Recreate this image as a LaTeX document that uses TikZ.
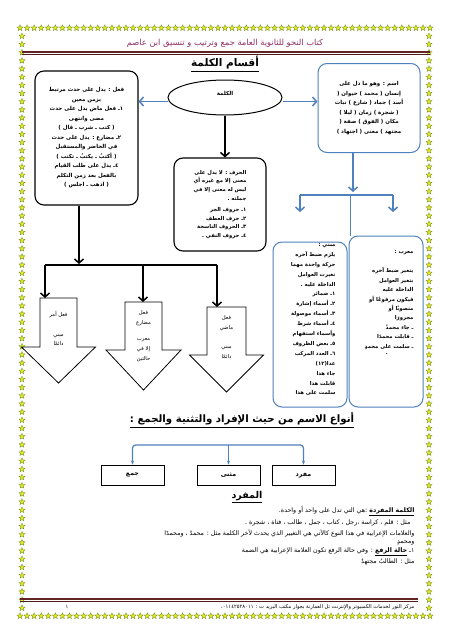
\documentclass[tikz,border=0pt]{standalone}
\usepackage{fontspec}
\usepackage{tikz}
\usetikzlibrary{positioning,calc,shapes.geometric,arrows.meta}
\newfontfamily\arabicfont[Script=Arabic]{DejaVu Sans}
\TeXXeTstate=1
\definecolor{pgblue}{HTML}{4F81BD}
\definecolor{pgmaroon}{HTML}{632523}
\definecolor{pgheader}{HTML}{943064}
\definecolor{pgstarfill}{HTML}{E8E820}
\definecolor{pgstarline}{HTML}{6B8E23}
\newcommand\ar[1]{\beginR#1\endR}
% block arrow: centre x, top y, half body, half head, shoulder y, tip y
\newcommand\downblock[6]{%
  \draw[line width=0.8pt, fill=white] ({#1-#3},#2) -- ({#1+#3},#2) -- ({#1+#3},#5)
    -- ({#1+#4},#5) -- (#1,#6) -- ({#1-#4},#5) -- ({#1-#3},#5) -- cycle;}

\begin{document}
\begin{tikzpicture}[x=1pt,y=-1pt,
  boxtext/.style={font=\arabicfont\bfseries\fontsize{5.5}{9.5}\selectfont},
  blackbox/.style={draw, line width=1.1pt, rounded corners=9pt, align=center, inner sep=0pt},
  bluebox/.style={draw=pgblue, line width=1pt, rounded corners=9pt, inner sep=0pt},
  blkarrow/.style={line width=1.5pt, -{Straight Barb[length=4pt,width=9pt]}},
  blkline/.style={line width=1.5pt},
  bluearrow/.style={draw=pgblue, line width=1.5pt, -{Straight Barb[length=4pt,width=9pt]}},
  blueline/.style={draw=pgblue, line width=1.5pt},
  smallbox/.style={draw, line width=0.6pt, minimum width=63pt, minimum height=20pt, inner sep=0pt,
    font=\arabicfont\bfseries\fontsize{6.3}{7}\selectfont},
  starmark/.style={star, star points=5, star point ratio=2.3, minimum size=6.5pt, inner sep=0pt,
    fill=pgstarfill, draw=pgstarline, line width=0.3pt},
  bodyline/.style={anchor=east, font=\arabicfont\fontsize{6.3}{7}\selectfont},
]
\useasboundingbox (0,0) rectangle (450,638);
\fill[white] (0,0) rectangle (450,638);

% star frame
\foreach \i in {0,...,58} {
  \node[starmark] (topstar\i) at ({20+\i*7.07},28) {};
  \node[starmark] (botstar\i) at ({20+\i*7.07},616) {};
}
\foreach \j in {1,...,71} {
  \node[starmark] (leftstar\j) at (22,{28+\j*8.17}) {};
  \node[starmark] (rightstar\j) at (429,{28+\j*8.17}) {};
}

% header
\node[font=\arabicfont\fontsize{8.3}{9}\selectfont, text=pgheader] (header) at (225,43)
  {\ar{كتاب النحو للثانوية العامة جمع وترتيب و تنسيق ابن عاصم}};
\draw[pgmaroon, line width=2pt] (22,52) -- (430,52);
\draw[pgmaroon!80!black, line width=0.5pt] (22,54.6) -- (430,54.6);

\node[font=\arabicfont\bfseries\fontsize{10.5}{12}\selectfont] (title) at (225,64)
  {\underline{\ar{أقسام الكلمة}}};

% the word and its three parts
\node[draw, ellipse, line width=1pt, minimum width=114pt, minimum height=35pt, inner sep=0pt,
  font=\arabicfont\bfseries\fontsize{5.5}{7}\selectfont] (kalima) at (225,97.5)
  {\raisebox{8pt}{\ar{الكلمة}}};

\node[blackbox, boxtext, minimum width=103pt, minimum height=134pt] (fiilbox) at (86.5,138) {%
  \ar{فعل : يدل على حدث مرتبط}\\
  \ar{بزمن معين}\\
  \ar{١ـ فعل ماض يدل على حدث}\\
  \ar{مضى وانتهى}\\
  \ar{( كتب ـ شرب ـ قال )}\\
  \ar{٢ـ مضارع : يدل على حدث}\\
  \ar{في الحاضر والمستقبل}\\
  \ar{( أكتبُ ـ يكتبُ ـ تكتب )}\\
  \ar{٤ـ يدل على طلب القيام}\\
  \ar{بالفعل بعد زمن التكلم}\\
  \ar{( اذهب ـ اجلس )}};

\node[bluebox, boxtext, align=center, minimum width=102pt, minimum height=89pt] (ismbox) at (369,108) {%
  \ar{اسم : وهو ما دل على}\\
  \ar{إنسان ( محمد ) حيوان (}\\
  \ar{أسد ) جماد ( شارع ) نبات}\\
  \ar{( شجرة ) زمان ( ليلا )}\\
  \ar{مكان ( الفوق ) صفة (}\\
  \ar{مجتهد ) معنى ( اجتهاد )}};

\node[blackbox, font=\arabicfont\bfseries\fontsize{5.3}{8.6}\selectfont, align=right,
  minimum width=92pt, minimum height=93pt] (harfbox) at (220,204.5) {%
  \ar{الحرف : لا يدل على}\\
  \ar{معنى إلا مع غيره أي}\\
  \ar{ليس له معنى إلا في}\\
  \ar{جملته .}\\[3pt]
  \ar{١ـ حروف الجر}\\
  \ar{٢ـ حرف العطف}\\
  \ar{٣ـ الحروف الناسخة}\\
  \ar{٤ـ حروف النفي .}};

\draw[bluearrow] ([yshift=-4pt]kalima.west) -- ([yshift=-4pt]kalima.west -| fiilbox.east);
\draw[bluearrow] ([yshift=-4pt]kalima.east) -- ([yshift=-4pt]kalima.east -| ismbox.west);
\draw[blkarrow] (kalima.south) -- (kalima.south |- harfbox.north);

% noun: built / declinable
\node[bluebox, minimum width=74pt, minimum height=165pt] (mabnibox) at (310,324.5) {};
\node[bluebox, minimum width=74pt, minimum height=171pt] (muarabbox) at (386,321.5) {};
\node[font=\arabicfont\bfseries\fontsize{5.3}{9.9}\selectfont, align=right, anchor=north east]
  (mabnitext) at (339,240) {%
  \ar{مبني :}\\
  \ar{يلزم ضبط آخره}\\
  \ar{حركة واحدة مهما}\\
  \ar{تغيرت العوامل}\\
  \ar{الداخلة عليه .}\\
  \ar{١ـ ضمائر}\\
  \ar{٢ـ أسماء إشارة}\\
  \ar{٣ـ أسماء موصولة}\\
  \ar{٤ـ أسماء شرط}\\
  \ar{وأسماء استفهام}\\
  \ar{٥ـ بعض الظروف}\\
  \ar{٦ـ العدد المركب}\\
  \ar{عدا(١٢)}\\
  \ar{جاء هذا}\\
  \ar{قابلت هذا}\\
  \ar{سلمت على هذا}};
\node[font=\arabicfont\bfseries\fontsize{5.3}{9.4}\selectfont, align=right, anchor=north east]
  (muarabtext) at (417,247) {%
  \ar{معرب :}\\[10pt]
  \ar{يتغير ضبط آخره}\\
  \ar{بتغير العوامل}\\
  \ar{الداخلة عليه}\\
  \ar{فيكون مرفوعًا أو}\\
  \ar{منصوبًا أو}\\
  \ar{مجرورًا}\\
  \ar{ـ جاء محمدٌ}\\
  \ar{ـ قابلت محمدًا}\\
  \ar{ـ سلمت على محمدٍ}};
\node[font=\bfseries\fontsize{7}{8}\selectfont] (muarabdot) at (387,354) {.};

\coordinate (ismjoin) at (350,195);
\coordinate (mabnidrop) at (300,212);
\coordinate (muarabdrop) at (393,212);
\draw[bluearrow] (ismbox.south -| 353,0) -- (353,192);
\draw[blueline] (mabnidrop |- ismjoin) -- (muarabdrop |- ismjoin);
\draw[bluearrow] (mabnidrop |- ismjoin) -- (mabnidrop);
\draw[bluearrow] (muarabdrop |- ismjoin) -- (muarabdrop);
\draw[blueline, line width=1pt] (ismjoin) -- (ismjoin |- muarabbox.north);

% verb: past, present, imperative
\coordinate (fiiljoin) at (79,265);
\coordinate (amrtop) at (45,298);
\coordinate (mudaritop) at (143,302);
\coordinate (maditop) at (217,307);
\downblock{58.5}{298}{18.5}{37}{347}{383}
\downblock{143.5}{302}{18.5}{37.5}{350}{390}
\downblock{226.5}{307}{19.5}{37}{355}{392}
\draw[blkarrow] (fiilbox.south -| fiiljoin) -- ([yshift=1pt]fiiljoin);
\draw[blkline] (amrtop |- fiiljoin) -- (maditop |- fiiljoin);
\draw[blkarrow] (amrtop |- fiiljoin) -- (amrtop);
\draw[blkarrow] (mudaritop |- fiiljoin) -- (mudaritop);
\draw[blkarrow] (maditop |- fiiljoin) -- (maditop);

\node[font=\arabicfont\fontsize{5.3}{9}\selectfont, align=center, anchor=north] (amrtext) at (58.5,308)
  {\ar{فعل أمر}\\[11pt]\ar{مبني}\\\ar{دائمًا}};
\node[font=\arabicfont\fontsize{5.3}{10}\selectfont, align=center, anchor=north] (mudaritext) at (143.5,307)
  {\ar{فعل}\\\ar{مضارع}\\[6pt]\ar{معرب}\\\ar{إلا في}\\\ar{حالتين}};
\node[font=\arabicfont\fontsize{5.3}{10}\selectfont, align=center, anchor=north] (maditext) at (226.5,312)
  {\ar{فعل}\\\ar{ماضي}\\[9pt]\ar{مبني}\\\ar{دائمًا}};

% kinds of the noun
\node[font=\arabicfont\bfseries\fontsize{10.2}{12}\selectfont] (anwaa) at (242,420)
  {\underline{\ar{أنواع الاسم من حيث الإفراد والتثنية والجمع :}}};
\node[smallbox] (jamaa) at (132.5,475) {\ar{جمع}};
\node[smallbox] (muthanna) at (228.5,475) {\ar{مثنى}};
\node[smallbox] (mufrad) at (303.5,475) {\ar{مفرد}};
\coordinate (nawbar) at (228.5,445);
\draw[pgblue, line width=1.2pt, rounded corners=3pt, {Stealth[length=4pt]}-{Stealth[length=4pt]}]
  (jamaa.north) |- (nawbar) -| (mufrad.north);
\draw[pgblue, line width=1.2pt, -{Stealth[length=4pt]}] (nawbar) -- (muthanna.north);

\node[font=\arabicfont\bfseries\fontsize{9.5}{11}\selectfont] (mufradtitle) at (247,497)
  {\underline{\ar{المفرد}}};
\node[bodyline] (line1) at (418,511)
  {\ar{\underline{\ar{\bfseries الكلمة المفردة}} :هي التي تدل على واحد أو واحدة.}};
\node[bodyline] (line2) at (414,523)
  {\ar{مثل : قلم ، كراسة ،رجل ، كتاب ، جمل ، طالب ، فتاة ، شجرة .}};
\node[bodyline] (line3) at (418,534)
  {\ar{والعلامات الإعرابية في هذا النوع كالآتي هي التغيير الذي يحدث لآخر الكلمة مثل : محمدٌ ، ومحمدًا}};
\node[bodyline] (line4) at (418,543) {\ar{ومحمدٍ}};
\node[bodyline] (line5) at (418,552)
  {\ar{١ـ \underline{\ar{\bfseries حالة الرفع}} : وفي حالة الرفع تكون العلامة الإعرابية هي الضمة}};
\node[bodyline] (line6) at (418,562) {\ar{مثل : الطالبُ مجتهدٌ}};

% footer
\draw[pgmaroon, line width=2pt] (20,599) -- (418,599);
\draw[pgmaroon!80!black, line width=0.5pt] (20,601.6) -- (418,601.6);
\node[font=\arabicfont\fontsize{5.2}{6}\selectfont, anchor=east] (footer) at (418,607)
  {\ar{مركز النور لخدمات الكمبيوتر والإنترنت تل العمارنة بجوار مكتب البريد ت : ٠١١٤٢٥٢٨٠١١،}};
\node[font=\arabicfont\fontsize{5.2}{6}\selectfont] (pagenum) at (67,607) {١};
\end{tikzpicture}
\end{document}
